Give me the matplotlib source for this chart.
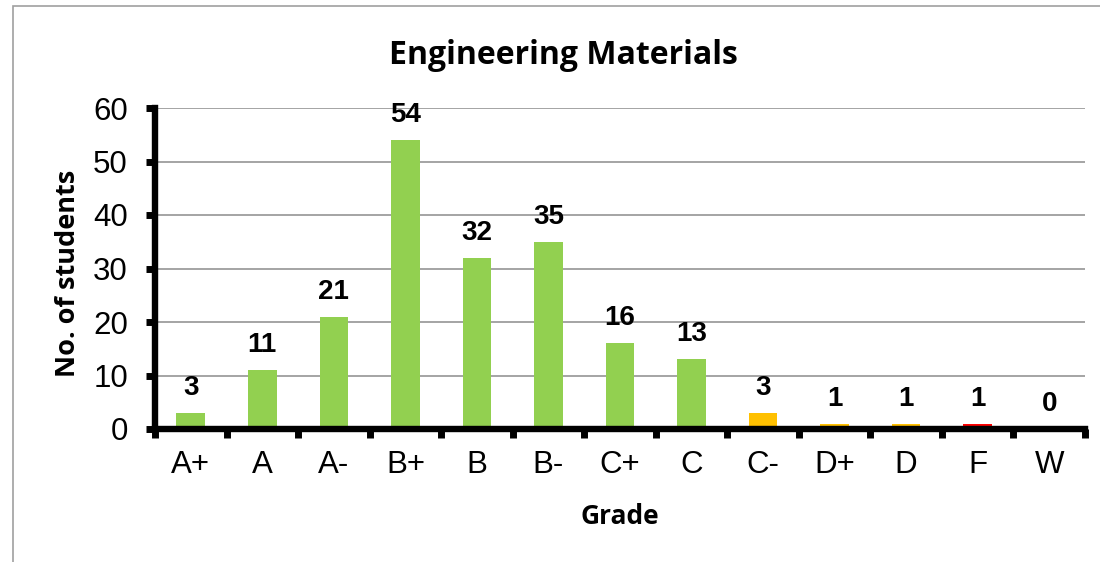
import matplotlib
matplotlib.use("Agg")
import matplotlib.pyplot as plt
from matplotlib.patches import Rectangle

grades = ["A+", "A", "A-", "B+", "B", "B-", "C+", "C", "C-", "D+", "D", "F", "W"]
students = [3, 11, 21, 54, 32, 35, 16, 13, 3, 1, 1, 1, 0]
bar_colors = ["#92D050"] * 8 + ["#FFC000", "#FFC000", "#FFC000", "#FF0000", "#92D050"]

fig = plt.figure(figsize=(11, 5.62), dpi=100)
fig.patches.append(Rectangle((13/1100, -0.1), 1.2, 1 - 6/562 + 0.1, transform=fig.transFigure,
                             fill=False, edgecolor="#A0A0A0", linewidth=1.2))
ax = fig.add_axes([155/1100, 1 - 429/562, (1085-155)/1100, (429-108)/562])

x = list(range(len(grades)))
ax.bar(x, students, width=0.40, color=bar_colors, zorder=3)
ax.set_xlim(-0.5, len(grades) - 0.5)
ax.set_ylim(0, 60)
ax.set_yticks(range(0, 61, 10))
ax.yaxis.grid(True, color="#8C8C8C", linewidth=1.1, zorder=0)
ax.set_axisbelow(True)

for s in ["top", "right"]:
    ax.spines[s].set_visible(False)
for s in ["left", "bottom"]:
    ax.spines[s].set_linewidth(4.6)
    ax.spines[s].set_color("black")
    ax.spines[s].set_zorder(4)

ax.set_xticks([i - 0.5 for i in range(len(grades) + 1)])
ax.set_xticklabels([])
ax.set_xticks(x, minor=True)
ax.set_xticklabels(grades, minor=True, fontsize=22.5, family="Liberation Sans")
ax.tick_params(axis="x", which="major", length=6.5, width=5, direction="out")
ax.tick_params(axis="x", which="minor", length=0, pad=15)
ax.tick_params(axis="y", length=6.5, width=5, direction="out", labelsize=22.5, pad=13)
for lab in ax.get_yticklabels():
    lab.set_family("Liberation Sans")

for xi, v in zip(x, students):
    ax.annotate(str(v), (xi, v), xytext=(0, 18), textcoords="offset points",
                ha="center", va="center", fontsize=20, fontweight="bold",
                family="Liberation Sans")

fig.text(563/1100, 1 - 55/562, "Engineering Materials", ha="center", va="center",
         fontsize=23, fontweight="bold", family="Open Sans")
fig.text(620/1100, 1 - 517/562, "Grade", ha="center", va="center",
         fontsize=19, fontweight="bold", family="Open Sans")
fig.text(68/1100, 1 - 273/562, "No. of students", ha="center", va="center",
         rotation=90, fontsize=19.5, fontweight="bold", family="Open Sans")

fig.savefig("out.png", dpi=100)
